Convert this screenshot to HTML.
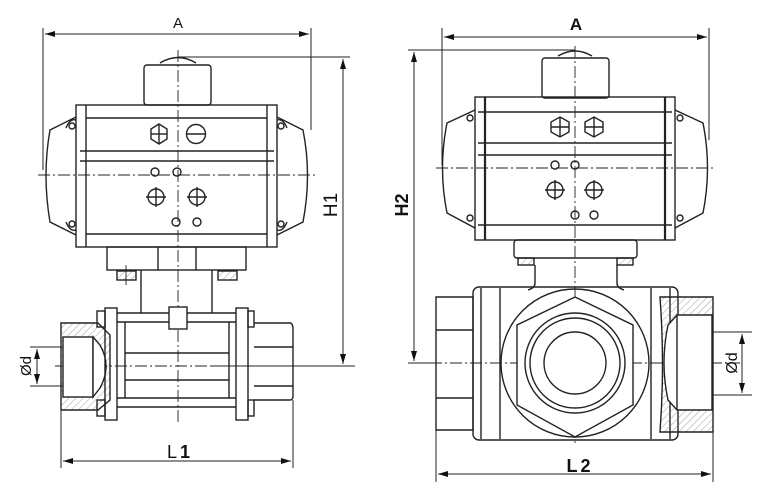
<!DOCTYPE html>
<html><head><meta charset="utf-8"><style>
html,body{margin:0;padding:0;background:#fff;width:760px;height:494px;overflow:hidden}
svg{display:block}
text{font-family:"Liberation Sans",sans-serif;fill:#111}
</style></head><body>
<svg width="760" height="494" viewBox="0 0 760 494" xmlns="http://www.w3.org/2000/svg">
<defs>
<pattern id="h" width="5" height="5" patternUnits="userSpaceOnUse" patternTransform="rotate(45)"><line x1="0" y1="0" x2="0" y2="5" stroke="#777" stroke-width="0.7"/></pattern>
<marker id="ar" viewBox="0 0 10 6" refX="10" refY="3" markerWidth="10" markerHeight="6" orient="auto-start-reverse"><path d="M0,0 L10,3 L0,6 z" fill="#111"/></marker>
</defs>
<g fill="none" stroke="#222" stroke-width="1.4">
<line x1="43" y1="28" x2="43" y2="170" stroke-width="1"/>
<line x1="311" y1="28" x2="311" y2="130" stroke-width="1"/>
<line x1="45" y1="34" x2="309" y2="34" stroke-width="1" marker-start="url(#ar)" marker-end="url(#ar)"/>
<line x1="178" y1="57" x2="350" y2="57" stroke-width="1"/>
<line x1="210" y1="366" x2="355" y2="366" stroke-width="1"/>
<line x1="343" y1="59" x2="343" y2="364" stroke-width="1" marker-start="url(#ar)" marker-end="url(#ar)"/>
<line x1="30" y1="347" x2="70" y2="347" stroke-width="1"/>
<line x1="30" y1="386" x2="70" y2="386" stroke-width="1"/>
<line x1="37" y1="349" x2="37" y2="384" stroke-width="1" marker-start="url(#ar)" marker-end="url(#ar)"/>
<line x1="61" y1="410" x2="61" y2="468" stroke-width="1"/>
<line x1="293" y1="400" x2="293" y2="468" stroke-width="1"/>
<line x1="63" y1="461" x2="291" y2="461" stroke-width="1" marker-start="url(#ar)" marker-end="url(#ar)"/>
<line x1="178" y1="50" x2="178" y2="422" stroke-width="0.9" stroke-dasharray="12,3,2,3"/>
<line x1="38" y1="175" x2="316" y2="175" stroke-width="0.9" stroke-dasharray="12,3,2,3"/>
<line x1="55" y1="366" x2="300" y2="366" stroke-width="0.9" stroke-dasharray="12,3,2,3"/>
<path d="M160,63 Q178,52 196,63"/>
<rect x="144" y="65" width="67" height="40" rx="3"/>
<rect x="76" y="105" width="201" height="142"/>
<line x1="86" y1="105" x2="86" y2="247"/>
<line x1="267" y1="105" x2="267" y2="247"/>
<line x1="86" y1="118" x2="267" y2="118"/>
<line x1="80" y1="151" x2="274" y2="151"/>
<line x1="80" y1="161" x2="274" y2="161"/>
<line x1="86" y1="234" x2="267" y2="234"/>
<path d="M76,117 L50,130 Q42,175 50,222 L76,235"/>
<path d="M277,117 L303,130 Q312,175 303,222 L277,235"/>
<path d="M66,128 Q70,118 76,120 M66,222 Q70,232 76,230 M287,128 Q283,118 277,120 M287,222 Q283,232 277,230"/>
<circle cx="72" cy="126" r="3"/><circle cx="72" cy="224" r="3"/><circle cx="281" cy="126" r="3"/><circle cx="281" cy="224" r="3"/>
<polygon points="159,124 167,129 167,139 159,144 151,139 151,129"/>
<line x1="151" y1="134" x2="167" y2="134"/><line x1="159" y1="124" x2="159" y2="144"/>
<circle cx="196" cy="134" r="9.5"/><line x1="186" y1="134" x2="206" y2="134"/>
<circle cx="155" cy="172" r="4"/><circle cx="177" cy="172" r="4"/>
<circle cx="156" cy="197" r="8"/><line x1="146" y1="197" x2="166" y2="197"/><line x1="156" y1="187" x2="156" y2="207"/>
<circle cx="197" cy="197" r="8"/><line x1="187" y1="197" x2="207" y2="197"/><line x1="197" y1="187" x2="197" y2="207"/>
<circle cx="176" cy="222" r="4"/><circle cx="197" cy="222" r="4"/>
<rect x="107" y="247" width="139" height="23"/>
<line x1="158" y1="247" x2="158" y2="270"/><line x1="196" y1="247" x2="196" y2="270"/>
<rect x="117" y="271" width="19" height="9" fill="url(#h)"/><rect x="218" y="271" width="19" height="9" fill="url(#h)"/>
<line x1="126" y1="265" x2="126" y2="285" stroke-width="0.9"/>
<line x1="141" y1="270" x2="141" y2="313"/><line x1="212" y1="270" x2="212" y2="313"/>
<path d="M61,323 L98,323 L110,335 L110,400 L98,410 L61,410 Z" fill="url(#h)"/>
<rect x="63" y="337" width="30" height="60" fill="#fff"/>
<path d="M93,337 L100,345 Q112,366 100,388 L93,397 Z" fill="#fff"/>
<rect x="97" y="311" width="8" height="16"/><rect x="97" y="400" width="8" height="16"/>
<rect x="105" y="308" width="12" height="112"/>
<rect x="236" y="308" width="12" height="112"/>
<rect x="248" y="311" width="6" height="16"/><rect x="248" y="400" width="6" height="16"/>
<line x1="117" y1="313" x2="236" y2="313"/><line x1="117" y1="322" x2="236" y2="322"/>
<line x1="117" y1="398" x2="236" y2="398"/><line x1="117" y1="407" x2="236" y2="407"/>
<line x1="125" y1="322" x2="125" y2="398"/><line x1="229" y1="322" x2="229" y2="398"/>
<line x1="125" y1="353" x2="229" y2="353"/><line x1="125" y1="380" x2="229" y2="380"/>
<rect x="169" y="307" width="18" height="22" fill="#fff"/>
<path d="M254,323 L290,323 Q293,323 293,330 L293,396 Q293,400 290,400 L254,400"/>
<line x1="254" y1="347" x2="293" y2="347"/><line x1="254" y1="386" x2="293" y2="386"/>

<line x1="442" y1="28" x2="442" y2="165" stroke-width="1"/>
<line x1="709" y1="28" x2="709" y2="140" stroke-width="1"/>
<line x1="444" y1="37" x2="707" y2="37" stroke-width="1" marker-start="url(#ar)" marker-end="url(#ar)"/>
<line x1="408" y1="50" x2="575" y2="50" stroke-width="1"/>
<line x1="408" y1="363" x2="440" y2="363" stroke-width="1"/>
<line x1="414" y1="52" x2="414" y2="361" stroke-width="1" marker-start="url(#ar)" marker-end="url(#ar)"/>
<line x1="690" y1="332" x2="752" y2="332" stroke-width="1"/>
<line x1="690" y1="395" x2="752" y2="395" stroke-width="1"/>
<line x1="742" y1="334" x2="742" y2="393" stroke-width="1" marker-start="url(#ar)" marker-end="url(#ar)"/>
<line x1="436" y1="430" x2="436" y2="482" stroke-width="1"/>
<line x1="713" y1="432" x2="713" y2="482" stroke-width="1"/>
<line x1="438" y1="474" x2="711" y2="474" stroke-width="1" marker-start="url(#ar)" marker-end="url(#ar)"/>
<line x1="575" y1="46" x2="575" y2="445" stroke-width="0.9" stroke-dasharray="12,3,2,3"/>
<line x1="436" y1="168" x2="714" y2="168" stroke-width="0.9" stroke-dasharray="12,3,2,3"/>
<line x1="410" y1="363" x2="740" y2="363" stroke-width="0.9" stroke-dasharray="12,3,2,3"/>
<path d="M558,56 Q575,46 592,56"/>
<rect x="542" y="58" width="67" height="40" rx="3"/>
<rect x="475" y="97" width="200" height="143"/>
<line x1="485" y1="97" x2="485" y2="240" stroke-width="2.2"/>
<line x1="665" y1="97" x2="665" y2="240" stroke-width="2.2"/>
<line x1="478" y1="112" x2="672" y2="112"/>
<line x1="478" y1="143" x2="672" y2="143"/>
<line x1="478" y1="155" x2="672" y2="155"/>
<line x1="478" y1="225" x2="672" y2="225"/>
<path d="M475,110 L447,123 Q438,168 447,213 L475,228"/>
<path d="M675,110 L703,123 Q712,168 703,213 L675,228"/>
<circle cx="470" cy="118" r="3"/><circle cx="470" cy="218" r="3"/><circle cx="680" cy="118" r="3"/><circle cx="680" cy="218" r="3"/>
<polygon points="560,117 569,122 569,132 560,137 551,132 551,122"/>
<line x1="551" y1="127" x2="569" y2="127"/><line x1="560" y1="117" x2="560" y2="137"/>
<polygon points="594,117 603,122 603,132 594,137 585,132 585,122"/>
<line x1="585" y1="127" x2="603" y2="127"/><line x1="594" y1="117" x2="594" y2="137"/>
<circle cx="555" cy="165" r="4"/><circle cx="575" cy="165" r="4"/>
<circle cx="555" cy="190" r="8"/><line x1="545" y1="190" x2="565" y2="190"/><line x1="555" y1="180" x2="555" y2="200"/>
<circle cx="594" cy="190" r="8"/><line x1="584" y1="190" x2="604" y2="190"/><line x1="594" y1="180" x2="594" y2="200"/>
<circle cx="575" cy="215" r="4"/><circle cx="594" cy="215" r="4"/>
<rect x="514" y="240" width="123" height="18" rx="3"/>
<rect x="518" y="258" width="16" height="7" fill="url(#h)"/><rect x="617" y="258" width="16" height="7" fill="url(#h)"/>
<path d="M535,265 L535,283 Q535,288 528,290 M617,265 L617,283 Q617,288 624,290"/>
<path d="M436,297 L473,297 L473,430 L436,430 Z"/>
<line x1="436" y1="330" x2="473" y2="330"/><line x1="436" y1="398" x2="473" y2="398"/>
<rect x="473" y="287" width="205" height="153" rx="6"/>
<line x1="481" y1="288" x2="481" y2="439"/><line x1="500" y1="288" x2="500" y2="439"/>
<line x1="651" y1="288" x2="651" y2="439"/><line x1="670" y1="288" x2="670" y2="439"/>
<circle cx="575" cy="363" r="74"/>
<polygon points="575,297 633,325 633,405 575,437 517,405 517,325" fill="#fff"/>
<circle cx="575" cy="363" r="50"/>
<circle cx="575" cy="363" r="45"/>
<circle cx="575" cy="363" r="31"/>
<path d="M660,297 L713,297 L713,432 L660,432 Q665,365 660,297 Z" fill="url(#h)"/>
<path d="M677,315 L712,315 L712,410 L677,410 L668,400 Q660,363 668,325 Z" fill="#fff"/>
<line x1="677" y1="315" x2="677" y2="410"/>
</g>
<g font-size="15">
<text x="178" y="28" text-anchor="middle">A</text>
<text x="576" y="30" text-anchor="middle" font-weight="bold" font-size="17">A</text>
<text x="180" y="458" text-anchor="middle" font-size="18" letter-spacing="3">L<tspan font-weight="bold">1</tspan></text>
<text x="580" y="472" text-anchor="middle" font-size="18" font-weight="bold" letter-spacing="3">L2</text>
<text transform="translate(337,205) rotate(-90)" text-anchor="middle" font-size="19">H1</text>
<text transform="translate(408,205) rotate(-90)" text-anchor="middle" font-size="18" font-weight="bold">H2</text>
<text transform="translate(31,366) rotate(-90)" text-anchor="middle">Ød</text>
<text transform="translate(737,363) rotate(-90)" text-anchor="middle" font-size="16">Ød</text>
</g>
</svg>
</body></html>
